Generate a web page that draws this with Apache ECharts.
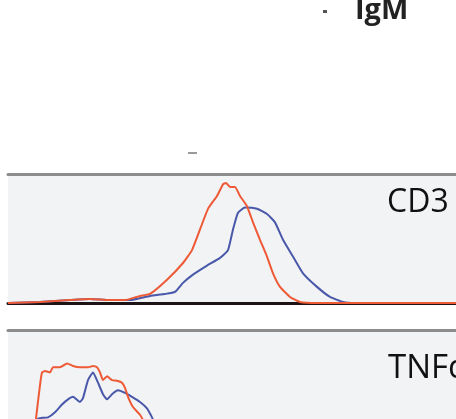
<!DOCTYPE html>
<html>
<head>
<meta charset="utf-8">
<script src="https://cdn.jsdelivr.net/npm/echarts@6/dist/echarts.min.js"></script>
<style>
  html, body { margin: 0; padding: 0; background: #fff; overflow: hidden; }
  /* taller than the window: the lower panel runs off the bottom edge */
  #main { width: 456px; height: 470px; }
</style>
</head>
<body>
<div id="main"></div>
<script>
// histogram data: [channel, % of max]
const cd3Orange = [
  [0, 0], [32, 0.8], [62, 2.3], [82, 3.1], [102, 2.3], [117, 2.3], [132, 5.5], [142, 7],
  [159, 18], [175, 31], [184, 41], [192, 57], [200, 73], [209, 83], [215, 92], [218, 93],
  [222, 90], [227, 90], [232, 83], [239, 75], [245, 62.5], [252, 49], [259, 36], [265, 23],
  [272, 12.5], [282, 4.7], [292, 0.8], [309, 0], [448, 0]
];
const cd3Blue = [
  [0, 0], [32, 0.8], [62, 2.3], [82, 3.1], [102, 2.3], [122, 2.3], [142, 5.5], [157, 7],
  [167, 8.6], [175, 15.6], [185, 22], [199, 29], [212, 35], [220, 41], [225, 57], [230, 70],
  [237, 74], [249, 73], [259, 69], [267, 62.5], [275, 49], [285, 36], [295, 23], [309, 12.5],
  [322, 4.7], [335, 0.8], [347, 0], [448, 0]
];
const tnfOrange = [
  [12, 0], [24, 0.8], [28, 33], [32, 59], [34, 69], [37, 70], [42, 69], [45, 73], [52, 73],
  [59, 76], [65, 74], [72, 73], [80, 73], [85, 74], [89, 73], [92, 69], [95, 63], [99, 66],
  [104, 63], [109, 62.5], [114, 61], [117, 57], [120, 50], [125, 42], [132, 36], [138, 28],
  [147, 16], [157, 7], [172, 1.6], [192, 0], [448, 0]
];
const tnfBlue = [
  [12, 0], [25, 0.8], [29, 24], [30, 33], [34, 33.6], [40, 34], [47, 38], [54, 44], [60, 48],
  [65, 50], [72, 46], [75, 49], [80, 63], [85, 69], [90, 61], [95, 52], [99, 48], [104, 52],
  [110, 55], [117, 53], [124, 50], [132, 46], [139, 41], [144, 34], [150, 24], [160, 10],
  [172, 3], [192, 0], [448, 0]
];
const panelLabels = ['CD3', 'TNFα'];
const topLabel = 'IgM';

const orange = '#ee5a36';
const blue = '#4a58aa';

let chart = echarts.init(document.getElementById('main'));

function xAx(gridIndex, position, color) {
  return {
    type: 'value',
    gridIndex: gridIndex,
    position: position,
    min: 0,
    max: 448,
    axisLine: { show: true, onZero: false, lineStyle: { color: color, width: 3 } },
    axisTick: { show: false },
    axisLabel: { show: false },
    splitLine: { show: false }
  };
}

function yAx(gridIndex, max) {
  return {
    type: 'value',
    gridIndex: gridIndex,
    min: 0,
    max: max,
    show: false
  };
}

function line(data, color, idx) {
  return {
    type: 'line',
    data: data,
    xAxisIndex: idx,
    yAxisIndex: idx,
    smooth: 0.15,
    symbol: 'none',
    clip: true,
    lineStyle: { color: color, width: 2 }
  };
}

chart.setOption({
  animation: false,
  backgroundColor: '#fff',
  grid: [
    // panel 1 (CD3)
    { left: 8, top: 174, height: 129, width: 448, show: true, backgroundColor: '#f1f3f5', borderWidth: 0 },
    // panel 2 (TNFα), runs off the bottom
    { left: 8, top: 330, height: 131, width: 448, show: true, backgroundColor: '#f1f3f5', borderWidth: 0 }
  ],
  xAxis: [
    xAx(0, 'bottom', '#1c1414'),
    xAx(0, 'top', '#8c8c8c'),
    xAx(1, 'bottom', '#1c1414'),
    xAx(1, 'top', '#8c8c8c')
  ],
  yAxis: [yAx(0, 100), yAx(0, 100), yAx(1, 102), yAx(1, 102)],
  series: [
    line(cd3Blue, blue, 0),
    line(cd3Orange, orange, 0),
    line(tnfBlue, blue, 2),
    line(tnfOrange, orange, 2)
  ],
  graphic: [
    {
      type: 'text', left: 387, top: 187,
      style: { text: panelLabels[0], font: '32px "Open Sans"', fill: '#111' }
    },
    {
      type: 'text', left: 388, top: 352,
      style: { text: panelLabels[1], font: '33px "Open Sans"', fill: '#111' }
    },
    {
      type: 'text', left: 355, top: -4,
      style: { text: topLabel, font: 'bold 29px "Open Sans"', fill: '#222' }
    },
    { type: 'rect', shape: { x: 323, y: 10, width: 4, height: 3 }, style: { fill: '#555' } },
    { type: 'rect', shape: { x: 188, y: 152, width: 9, height: 2 }, style: { fill: '#9a9a9a' } }
  ]
});
</script>
</body>
</html>
